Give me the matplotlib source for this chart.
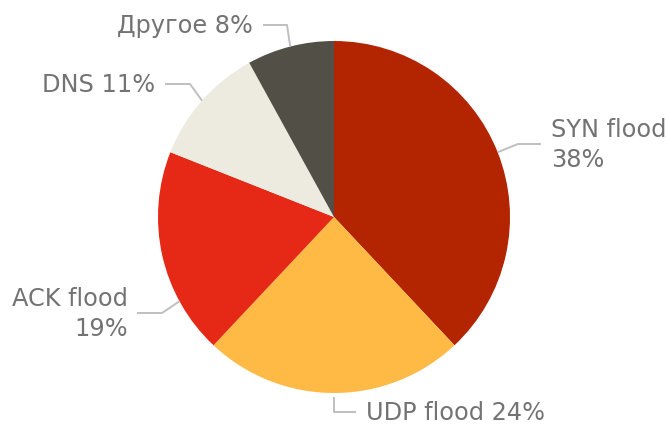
import matplotlib.pyplot as plt
import numpy as np

labels = ["SYN flood", "UDP flood", "ACK flood", "DNS", "Другое"]
values = [38, 24, 19, 11, 8]
colors = ["#B22500", "#FFBA45", "#E52916", "#EDEBE0", "#525046"]

# label layout in pixel coords (y from top): text x, text y, ha, multiline, elbow x, line end x
layout = [
    dict(tx=551, ty=145, ha="left", two=True, ex=518, lx=541, ang=0),
    dict(tx=366, ty=413, ha="left", two=False, ex=334, lx=356, ang=0),
    dict(tx=128, ty=314, ha="right", two=True, ex=162, lx=137, ang=16),
    dict(tx=155, ty=85, ha="right", two=False, ex=190, lx=165, ang=0),
    dict(tx=253, ty=26, ha="right", two=False, ex=287, lx=263, ang=0),
]

W, H = 666, 427
cx, cy, r = 334, H - 218, 176

fig = plt.figure(figsize=(W / 100, H / 100), dpi=100)
ax = fig.add_axes([0, 0, 1, 1])

wedges, _ = ax.pie(values, colors=colors, startangle=90, counterclock=False,
                   center=(cx, cy), radius=r, frame=True,
                   wedgeprops=dict(linewidth=0))
ax.set_xlim(0, W)
ax.set_ylim(0, H)
ax.axis("off")

tcol = "#737373"
lcol = "#BFBFBF"
for w, lab, v, L in zip(wedges, labels, values, layout):
    mid = np.deg2rad((w.theta1 + w.theta2) / 2 + L["ang"])
    px, py = cx + r * np.cos(mid), cy + r * np.sin(mid)
    ty = H - L["ty"]
    if lab == "UDP flood":
        xs = [px, px, L["lx"]]
        ys = [py - 4, ty, ty]
    else:
        xs = [px, L["ex"], L["lx"]]
        ys = [py, ty, ty]
    ax.plot(xs, ys, color=lcol, lw=1.4, solid_capstyle="butt")
    txt = f"{lab}\n{v}%" if L["two"] else f"{lab} {v}%"
    ax.text(L["tx"], ty, txt, ha=L["ha"], va="center", color=tcol,
            fontsize=17.3, family="DejaVu Sans", linespacing=1.3,
            multialignment=L["ha"])

fig.savefig("out.png", dpi=100)
